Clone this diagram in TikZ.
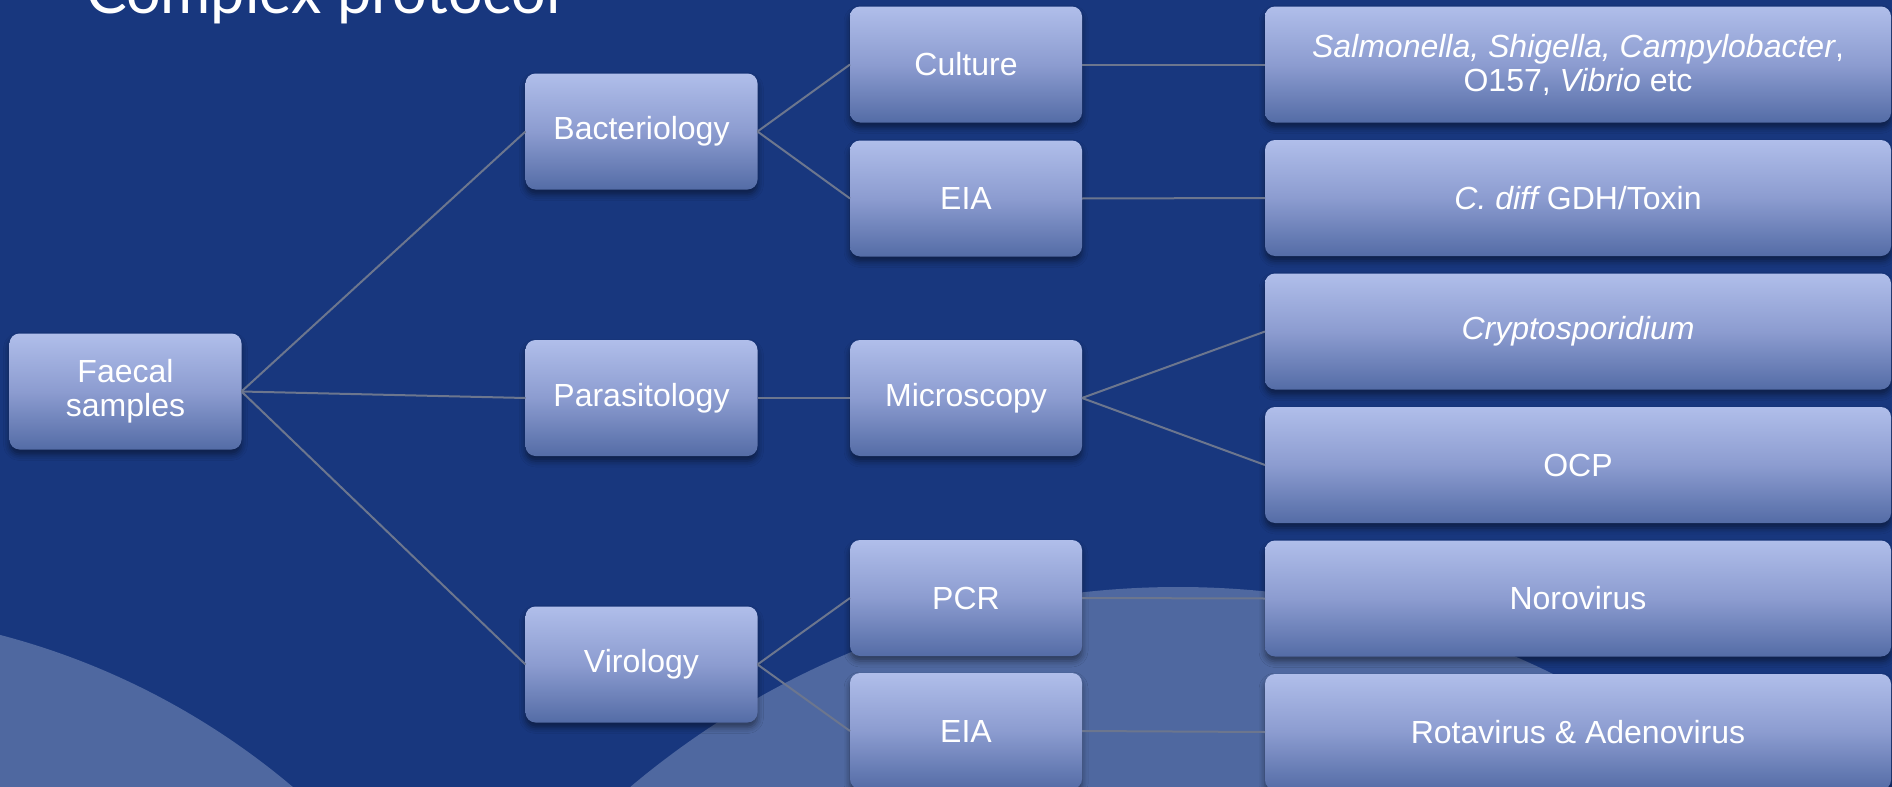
\documentclass[tikz,border=0pt]{standalone}
\usepackage{fontspec}
\setmainfont{Liberation Sans}
\newfontfamily\titlefont{Lato}
\usetikzlibrary{positioning,shadows.blur}

\definecolor{bgblue}{RGB}{24,55,126}
\definecolor{arcblue}{RGB}{79,104,160}
\definecolor{boxtop}{RGB}{176,190,234}
\definecolor{boxmid}{RGB}{140,156,208}
\definecolor{boxbot}{RGB}{84,108,166}
\definecolor{linkgray}{RGB}{108,118,142}

\begin{document}
\begin{tikzpicture}[x=0.5pt, y=-0.5pt, line width=1pt,
	box/.style={rounded corners=5pt, top color=boxtop, bottom color=boxbot, middle color=boxmid,
		text=white, align=center, inner sep=0pt, outer sep=0pt, minimum width=116pt, minimum height=58pt,
		font=\fontsize{16}{17}\selectfont,
		blur shadow={shadow xshift=0pt, shadow yshift=-2.5pt, shadow opacity=45, shadow blur radius=3pt}},
	wide/.style={box, minimum width=313pt},
	link/.style={draw=linkgray}]

		\useasboundingbox (0,0) rectangle (1892,787);
		\clip (0,0) rectangle (1892,787);
		\fill[bgblue] (0,0) rectangle (1892,787);
		\fill[arcblue] (-189.5,1358.7) circle[radius=374pt];
		\fill[arcblue] (1178,1437) circle[radius=425pt];

		\node[anchor=base west, text=white, inner sep=0pt, font=\titlefont\fontsize{30.5}{30.5}\selectfont] (title) at (85,13) {Complex protocol};

		\node[box] (faecal) at (125.5,391.5) {Faecal\\samples};
		\node[box] (para) at (641.5,398) {Parasitology};
		\node[box, above=75.25pt of para] (bact) {Bacteriology};
		\node[box, below=75.25pt of para] (viro) {Virology};

		\node[box] (culture) at (966,64.5) {Culture};
		\node[box, below=9pt of culture] (eiab) {EIA};
		\node[box, right=46.25pt of para] (micro) {Microscopy};
		\node[box] (pcr) at (966,598) {PCR};
		\node[box, below=8.5pt of pcr] (eiav) {EIA};

		\node[wide, anchor=west] (salm) at (1265,64.5) {\textit{Salmonella, Shigella, Campylobacter},\\O157, {\itshape Vibrio} etc};
		\node[wide, below=8.75pt of salm] (cdiff) {{\itshape C. diff} GDH/Toxin};
		\node[wide, below=8.75pt of cdiff] (crypto) {\textit{Cryptosporidium}};
		\node[wide, below=8.75pt of crypto] (ocp) {OCP};
		\node[wide, below=8.75pt of ocp] (noro) {Norovirus};
		\node[wide, below=8.75pt of noro] (rota) {Rotavirus \& Adenovirus};

		\draw[link] (faecal.east) -- (bact.west);
		\draw[link] (faecal.east) -- (para.west);
		\draw[link] (faecal.east) -- (viro.west);

		\draw[link] (bact.east) -- (culture.west);
		\draw[link] (bact.east) -- (eiab.west);
		\draw[link] (para.east) -- (micro.west);
		\draw[link] (viro.east) -- (pcr.west);
		\draw[link] (viro.east) -- (eiav.west);

		\draw[link] (culture.east) -- (salm.west);
		\draw[link] (eiab.east) -- (cdiff.west);
		\draw[link] (micro.east) -- (crypto.west);
		\draw[link] (micro.east) -- (ocp.west);
		\draw[link] (pcr.east) -- (noro.west);
		\draw[link] (eiav.east) -- (rota.west);
	\end{tikzpicture}
\end{document}
